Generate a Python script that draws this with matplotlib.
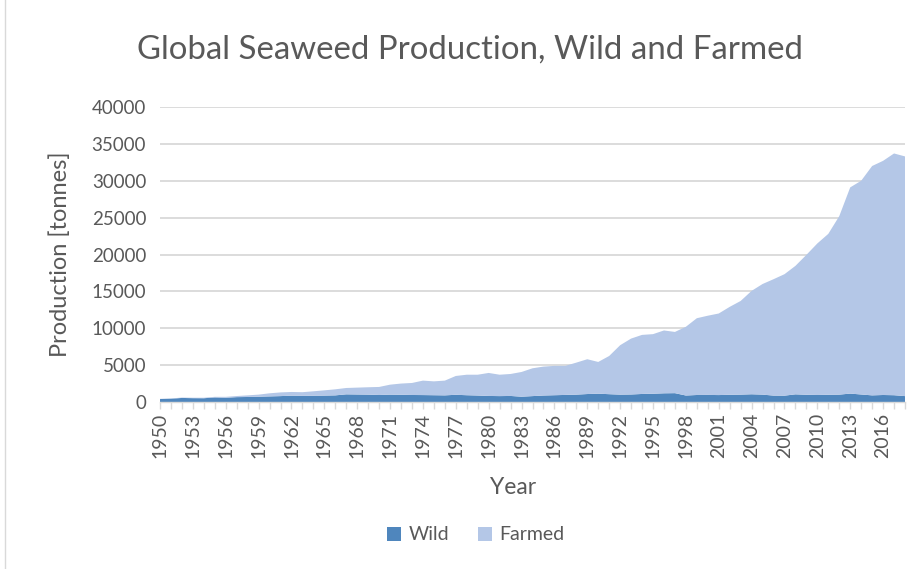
import matplotlib
matplotlib.use("Agg")
import matplotlib.pyplot as plt
from matplotlib.lines import Line2D
from matplotlib.patches import Patch

years = list(range(1950, 2019))

wild = [
    400, 450, 550, 520, 510, 620, 580, 660, 680, 720,
    760, 800, 860, 830, 850, 870, 900, 1040, 1020, 1000,
    950, 1000, 980, 950, 940, 920, 900, 980, 920, 880,
    820, 800, 820, 720, 800, 880, 920, 960, 1000, 1080,
    1130, 1060, 1000, 1020, 1090, 1120, 1180, 1200, 880, 950,
    960, 940, 980, 1000, 1050, 1000, 870, 860, 1040, 980,
    950, 980, 1000, 1140, 1020, 900, 950, 920, 800,
]

farmed = [
    30, 30, 50, 60, 70, 80, 120, 150, 220, 280,
    420, 500, 500, 500, 600, 710, 820, 860, 930, 1000,
    1090, 1350, 1520, 1630, 1960, 1880, 2000, 2550, 2780, 2820,
    3120, 2900, 2980, 3350, 3770, 3920, 3980, 3940, 4340, 4720,
    4300, 5180, 6700, 7580, 8010, 8080, 8520, 8300, 9320, 10410,
    10740, 11060, 11920, 12700, 14020, 15000, 15780, 16470, 17420, 18970,
    20550, 21820, 24200, 27960, 28980, 31100, 31750, 32780, 32500,
]

series_names = ["Wild", "Farmed"]
series_colors = ["#4F86BD", "#B4C7E7"]
y_ticks = list(range(0, 40001, 5000))
label_years = list(range(1950, 2017, 3))

text_color = "#595959"
grid_color = "#D9D9D9"
font = "Lato"

fig = plt.figure(figsize=(9.22, 5.69), dpi=100)
ax = fig.add_axes([160 / 922, 1 - 402 / 569, 745 / 922, 295 / 569])

ax.stackplot(years, wild, farmed, colors=series_colors, linewidth=0, zorder=2)

ax.set_xlim(years[0], years[-1])
ax.set_ylim(y_ticks[0], y_ticks[-1])

ax.set_yticks(y_ticks)
ax.set_yticklabels([str(v) for v in y_ticks], fontfamily=font, fontsize=13.5, color=text_color)
ax.tick_params(axis="y", length=0, pad=10)
ax.yaxis.grid(True, color=grid_color, linewidth=1.3, zorder=1)
ax.set_axisbelow(True)

ax.set_xticks(years, minor=True)
ax.set_xticks(label_years)
ax.set_xticklabels([str(y) for y in label_years], rotation=90, fontfamily=font,
                   fontsize=14, color=text_color)
ax.tick_params(axis="x", which="both", direction="out", length=5, width=1,
               color=grid_color, pad=3)

for side in ["top", "right", "left"]:
    ax.spines[side].set_visible(False)
ax.spines["bottom"].set_color(grid_color)
ax.spines["bottom"].set_linewidth(1.0)

ax.set_xlabel("Year", fontfamily=font, fontsize=16.5, color=text_color)
ax.xaxis.set_label_coords((513 - 160) / 745, -(488 - 402) / 295)
ax.xaxis.label.set_verticalalignment("center")
ax.set_ylabel("Production [tonnes]", fontfamily=font, fontsize=17, color=text_color)
ax.yaxis.set_label_coords(-(160 - 60) / 745, (402 - 254) / 295)
ax.yaxis.label.set_verticalalignment("center")

fig.text(470 / 922, 1 - 50 / 569, "Global Seaweed Production, Wild and Farmed",
         ha="center", va="center", fontfamily=font, fontsize=23.8, color=text_color)

handles = [Patch(facecolor=c, edgecolor="none") for c in series_colors]
fig.legend(handles, series_names, loc="center", bbox_to_anchor=(476 / 922, 1 - 535 / 569),
           ncol=2, frameon=False, prop={"family": font, "size": 14},
           labelcolor=text_color, handlelength=0.7, handleheight=0.7,
           handletextpad=0.4, columnspacing=1.5)

# light chart-area border on the left edge
fig.add_artist(Line2D([5 / 922, 5 / 922], [0, 1], transform=fig.transFigure,
                      color=grid_color, linewidth=1))

fig.savefig("out.png", dpi=100, facecolor="white")
